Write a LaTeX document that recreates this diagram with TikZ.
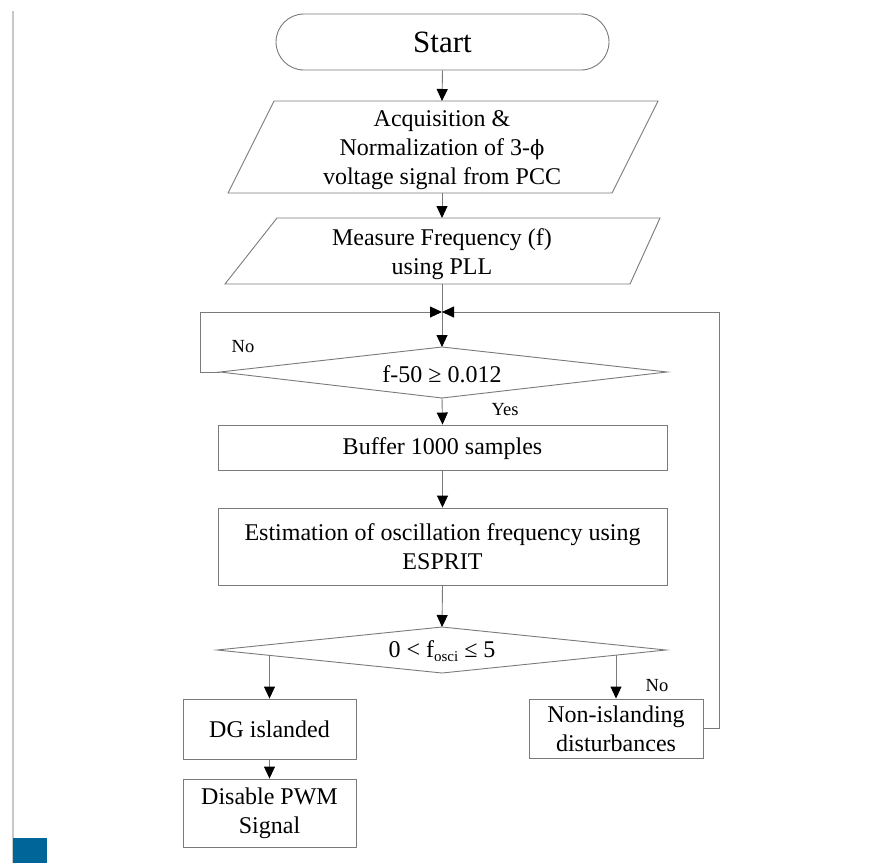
\documentclass[tikz,border=0pt]{standalone}
\usepackage{fontspec}
\setmainfont{Liberation Serif}
\newfontfamily\dvserif{DejaVu Serif}
\usetikzlibrary{arrows.meta}
\definecolor{ln}{HTML}{7A7A7A}
\definecolor{blu}{HTML}{006699}
\definecolor{margin}{HTML}{C8C8C8}
\begin{document}
\begin{tikzpicture}[x=1pt,y=-1pt,
  box/.style={draw=ln, line width=0.9pt},
  txt/.style={font=\fontsize{24}{29.3}\selectfont, align=center, inner sep=0pt},
  lbl/.style={font=\fontsize{18.5}{22}\selectfont, inner sep=0pt},
  arr/.style={draw=ln, line width=0.9pt, -{Triangle[length=12pt,width=11pt,color=black]}},
  plain/.style={draw=ln, line width=0.9pt}]
\useasboundingbox (0,0) rectangle (875,863);
% page decorations
\draw[margin, line width=2pt] (12.5,11) -- (12.5,863);
\fill[blu] (13,838) rectangle (47,863);

% Start
\node[box, txt, rounded corners=28pt, minimum width=333pt, minimum height=56pt,
      font=\fontsize{31}{36}\selectfont] (start) at (442.5,42) {Start};

% Parallelogram 1
\coordinate (p1a) at (274,101);
\coordinate (p1b) at (658,101);
\coordinate (p1c) at (612,193);
\coordinate (p1d) at (228,193);
\draw[box] (p1a) -- (p1b) -- (p1c) -- (p1d) -- cycle;
\node[txt] (p1) at (442,150) {Acquisition \&\\Normalization of 3-{\dvserif\fontsize{21}{21}\selectfont ϕ}\\voltage signal from PCC};
\coordinate (p1top) at (442,101);
\coordinate (p1bot) at (442,193);

% Parallelogram 2
\coordinate (p2a) at (277,218);
\coordinate (p2b) at (660,218);
\coordinate (p2c) at (630,284);
\coordinate (p2d) at (225,284);
\draw[box] (p2a) -- (p2b) -- (p2c) -- (p2d) -- cycle;
\node[txt] (p2) at (442,254) {Measure Frequency (f)\\using PLL};
\coordinate (p2top) at (442,218);
\coordinate (p2bot) at (442,284);

% junction
\coordinate (J) at (442,312);

% Diamond 1
\coordinate (d1l) at (220,372);
\coordinate (d1t) at (442,347);
\coordinate (d1r) at (667,372);
\coordinate (d1b) at (442,398);
\draw[box] (d1l) -- (d1t) -- (d1r) -- (d1b) -- cycle;
\node[txt] (d1) at (442,374) {f-50 ≥ 0.012};

% Buffer
\node[box, minimum width=449pt, minimum height=45pt] (buf) at (442.5,447.5) {};
\node[txt] (buft) at (442.5,449) {Buffer 1000 samples};

% Estimation
\node[box, txt, minimum width=449pt, minimum height=77pt] (est) at (442.5,546.5) {Estimation of oscillation frequency using\\ESPRIT};

% Diamond 2
\coordinate (d2l) at (217,650);
\coordinate (d2t) at (442,627);
\coordinate (d2r) at (666,650);
\coordinate (d2b) at (442,673);
\draw[box] (d2l) -- (d2t) -- (d2r) -- (d2b) -- cycle;
\node[txt] (d2) at (442,651) {0 < f\raisebox{-0.35ex}{\fontsize{15}{15}\selectfont osci} ≤ 5};
\coordinate (d2lo) at (269.5,655.5);
\coordinate (d2ro) at (616,655.2);

% Outcome boxes
\node[box, txt, minimum width=173pt, minimum height=60pt] (dg) at (269.5,729) {DG islanded};
\node[box, txt, minimum width=173pt, minimum height=68pt] (dis) at (269.5,813) {Disable PWM\\Signal};
\node[box, txt, minimum width=174pt, minimum height=59pt] (ni) at (616,728.5) {Non-islanding\\disturbances};

% loop corners
\coordinate (L1) at (200,372);
\coordinate (R1) at (719,728.5);

% connectors
\draw[arr] (start.south) -- (p1top);
\draw[arr] (p1bot) -- (p2top);
\draw[plain] (p2bot) -- (J);
\draw[arr] (J) -- (d1t);
\draw[arr] (d1l) -- (L1) |- (J);
\draw[arr] (ni.east) -- (R1) |- (J);
\draw[arr] (d1b) -- (buf.north);
\draw[arr] (buf.south) -- (est.north);
\draw[arr] (est.south) -- (d2t);
\draw[arr] (d2lo) -- (dg.north);
\draw[arr] (d2ro) -- (ni.north);
\draw[arr] (dg.south) -- (dis.north);

% labels
\node[lbl] (no1) at (243,347) {No};
\node[lbl] (yes1) at (505,410) {Yes};
\node[lbl] (no2) at (657,686) {No};
\end{tikzpicture}
\end{document}
